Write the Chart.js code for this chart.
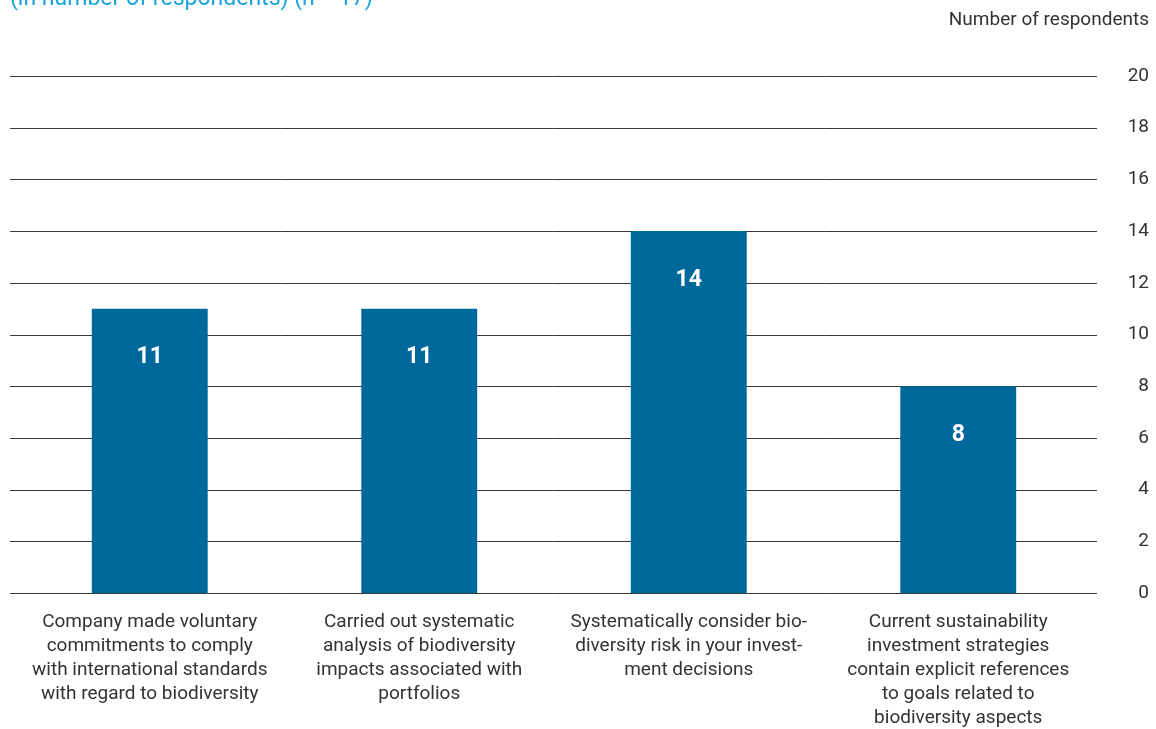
<!DOCTYPE html>
<html>
<head>
<meta charset="utf-8">
<script src="https://cdn.jsdelivr.net/npm/chart.js@4.4.1/dist/chart.umd.min.js"></script>
<style>
  html, body { margin: 0; padding: 0; background: #fff; overflow: hidden; }
  #wrap { position: relative; width: 1156px; height: 729px; }
  #subtitle {
    position: absolute; left: 10px; top: -16px;
    font-family: Roboto, sans-serif; font-size: 23px; color: #1aa3dc;
    white-space: nowrap;
  }
  #unit {
    position: absolute; right: 7px; top: 7px;
    font-family: Roboto, sans-serif; font-size: 19px; color: #333;
  }
</style>
</head>
<body>
<div id="wrap">
  <canvas id="chartCanvas" width="1156" height="729"></canvas>
  <div id="subtitle">(in number of respondents) (n = 17)</div>
  <div id="unit">Number of respondents</div>
</div>
<script>
// 類別標籤（多行）
const categories = [
  ['Company made voluntary', 'commitments to comply', 'with international standards', 'with regard to biodiversity'],
  ['Carried out systematic', 'analysis of biodiversity', 'impacts associated with', 'portfolios'],
  ['Systematically consider bio-', 'diversity risk in your invest-', 'ment decisions'],
  ['Current sustainability', 'investment strategies', 'contain explicit references', 'to goals related to', 'biodiversity aspects']
];
const respondents = [11, 11, 14, 8];
const yTicks = [0, 2, 4, 6, 8, 10, 12, 14, 16, 18, 20];

const barColor = '#00689a';
const textColor = '#333333';
const fontFamily = 'Roboto, sans-serif';

// 自訂格線：從左邊緣延伸到刻度旁
const gridPlugin = {
  id: 'customGrid',
  beforeDatasetsDraw(chart) {
    const { ctx, scales: { y } } = chart;
    ctx.save();
    ctx.strokeStyle = '#3a3a3a';
    ctx.lineWidth = 1;
    yTicks.forEach(v => {
      const py = Math.round(y.getPixelForValue(v)) + 0.5;
      ctx.beginPath();
      ctx.moveTo(10, py);
      ctx.lineTo(chart.chartArea.right + 4, py);
      ctx.stroke();
    });
    ctx.restore();
  }
};

// 長條內的數值標籤
const valueLabels = {
  id: 'valueLabels',
  afterDatasetsDraw(chart) {
    const { ctx } = chart;
    const meta = chart.getDatasetMeta(0);
    ctx.save();
    ctx.fillStyle = '#ffffff';
    ctx.font = 'bold 23px ' + fontFamily;
    ctx.textAlign = 'center';
    ctx.textBaseline = 'middle';
    meta.data.forEach((bar, i) => {
      ctx.fillText(String(respondents[i]), bar.x, bar.y + 49);
    });
    ctx.restore();
  }
};

new Chart(document.getElementById('chartCanvas'), {
  type: 'bar',
  data: {
    labels: categories,
    datasets: [{
      data: respondents,
      backgroundColor: barColor,
      borderWidth: 0,
      categoryPercentage: 1,
      barPercentage: 0.43
    }]
  },
  options: {
    responsive: false,
    animation: false,
    layout: { padding: { top: 76, left: 15, right: 7, bottom: 0 } },
    plugins: {
      legend: { display: false },
      tooltip: { enabled: false }
    },
    scales: {
      x: {
        grid: { display: false, drawTicks: false },
        border: { display: false },
        afterFit(scale) {
          scale.height = 136;
        },
        ticks: {
          color: textColor,
          font: { family: fontFamily, size: 19, lineHeight: '24px' },
          padding: 17,
          maxRotation: 0,
          autoSkip: false
        }
      },
      y: {
        position: 'right',
        min: 0,
        max: 20,
        afterBuildTicks(scale) {
          scale.ticks = yTicks.map(v => ({ value: v }));
        },
        afterFit(scale) {
          scale.width = 56;
          scale.paddingTop = 0;
          scale.paddingBottom = 0;
        },
        grid: { display: false, drawTicks: false },
        border: { display: false },
        ticks: {
          color: textColor,
          crossAlign: 'far',
          font: { family: fontFamily, size: 19 },
          padding: 10
        }
      }
    }
  },
  plugins: [gridPlugin, valueLabels]
});
</script>
</body>
</html>
